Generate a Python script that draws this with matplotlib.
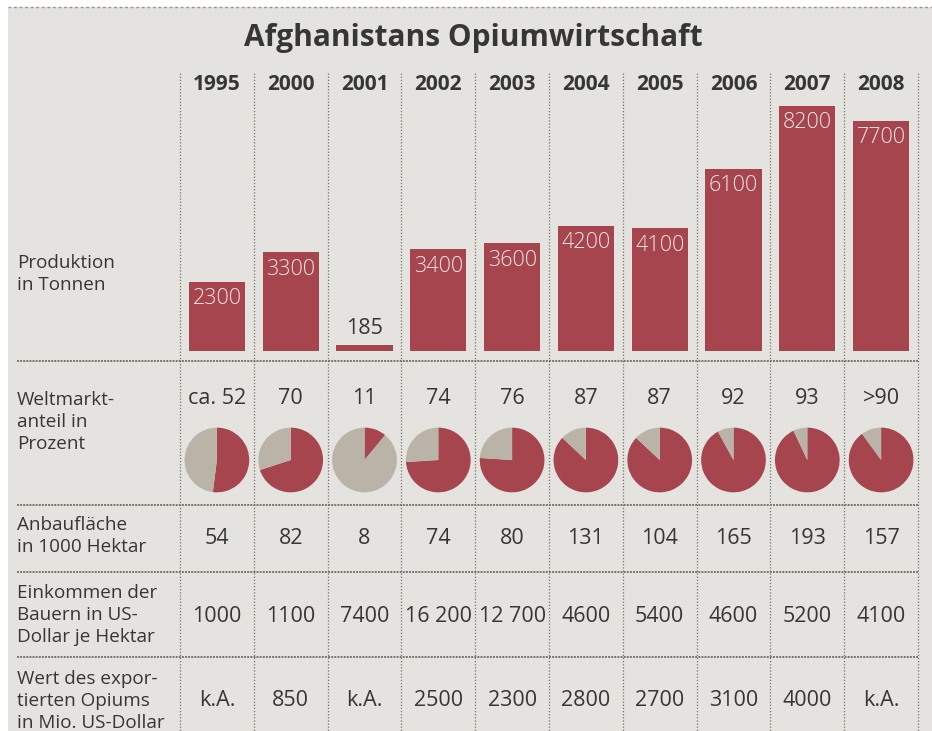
import matplotlib
matplotlib.use("Agg")
import matplotlib.pyplot as plt
from matplotlib.patches import Rectangle

# data
years = ["1995", "2000", "2001", "2002", "2003", "2004", "2005", "2006", "2007", "2008"]
production = [2300, 3300, 185, 3400, 3600, 4200, 4100, 6100, 8200, 7700]
share_labels = ["ca. 52", "70", "11", "74", "76", "87", "87", "92", "93", ">90"]
share = [52, 70, 11, 74, 76, 87, 87, 92, 93, 90]
area = ["54", "82", "8", "74", "80", "131", "104", "165", "193", "157"]
income = ["1000", "1100", "7400", "16 200", "12 700", "4600", "5400", "4600", "5200", "4100"]
export_value = ["k.A.", "850", "k.A.", "2500", "2300", "2800", "2700", "3100", "4000", "k.A."]

row_labels = [
    ("Produktion\nin Tonnen", 274),
    ("Weltmarkt-\nanteil in\nProzent", 422),
    ("Anbaufläche\nin 1000 Hektar", 536),
    ("Einkommen der\nBauern in US-\nDollar je Hektar", 615),
    ("Wert des expor-\ntierten Opiums\nin Mio. US-Dollar", 701),
]

BG = "#e5e3df"
RED = "#a6454e"
GREY = "#bab3a8"
TEXT = "#363636"
LINE = "#77726a"

plt.rcParams["font.family"] = ["Open Sans", "DejaVu Sans"]

W, H = 932, 731
fig = plt.figure(figsize=(W / 100, H / 100), dpi=100, facecolor="white")

# overlay axes in pixel coordinates
ax = fig.add_axes([0, 0, 1, 1])
ax.set_xlim(0, W)
ax.set_ylim(H, 0)
ax.axis("off")
ax.add_patch(Rectangle((8, 7), W - 8, H - 7, facecolor=BG, edgecolor="none", zorder=0))
ax.plot([8, W], [7, 7], color="#9a958c", lw=1, ls=(0, (2, 2)))

x0, x1 = 180, 918
colw = (x1 - x0) / len(years)
centers = [x0 + colw * (i + 0.5) for i in range(len(years))]

ax.text(473, 38, "Afghanistans Opiumwirtschaft", ha="center", va="center",
        fontsize=21.5, fontweight="bold", color=TEXT)

# grid lines
for i in range(len(years) + 1):
    xx = x0 + colw * i
    ax.plot([xx, xx], [73, H], color=LINE, lw=0.9, ls=(0, (1, 1.5)), zorder=1)
for yy in [361, 505, 572, 657]:
    ax.plot([17, x1], [yy, yy], color=LINE, lw=1.4, ls=(0, (1, 0.6)), zorder=1)

fs = 15.5
for i, c in enumerate(centers):
    ax.text(c, 84, years[i], ha="center", va="center", fontsize=15,
            fontweight="bold", color=TEXT)
    ax.text(c, 398, share_labels[i], ha="center", va="center", fontsize=fs, color=TEXT)
    ax.text(c, 538, area[i], ha="center", va="center", fontsize=fs, color=TEXT)
    ax.text(c, 616, income[i], ha="center", va="center", fontsize=fs, color=TEXT)
    ax.text(c, 700, export_value[i], ha="center", va="center", fontsize=fs, color=TEXT)

for lbl, yy in row_labels:
    ax.text(17, yy, lbl, ha="left", va="center", fontsize=13.6, color=TEXT,
            linespacing=1.3)

# bar chart
bax = fig.add_axes([x0 / W, 1 - 351 / H, (x1 - x0) / W, (351 - 73) / H])
bax.set_facecolor("none")
bars = bax.bar(range(len(years)), production, width=0.76, color=RED)
bax.set_xlim(-0.5, len(years) - 0.5)
bax.set_ylim(0, 8200 * 278 / 245)
bax.axis("off")
for i, v in enumerate(production):
    if v > 1000:
        bax.annotate(str(v), (i, v), xytext=(0, -12), textcoords="offset points",
                     ha="center", va="center", fontsize=fs, fontweight="light",
                     color="#f3e6e6")
    else:
        bax.annotate(str(v), (i, v), xytext=(0, 12), textcoords="offset points",
                     ha="center", va="center", fontsize=fs, color=TEXT)

# pies
r = 33
for i, c in enumerate(centers):
    pax = fig.add_axes([(c - r) / W, 1 - (460 + r) / H, 2 * r / W, 2 * r / H])
    pax.pie([share[i], 100 - share[i]], colors=[RED, GREY], startangle=90,
            counterclock=False, radius=1.0)
    pax.set_xlim(-1.02, 1.02)
    pax.set_ylim(-1.02, 1.02)
    pax.set_aspect("equal")

fig.savefig("out.png", dpi=100, facecolor="white")
